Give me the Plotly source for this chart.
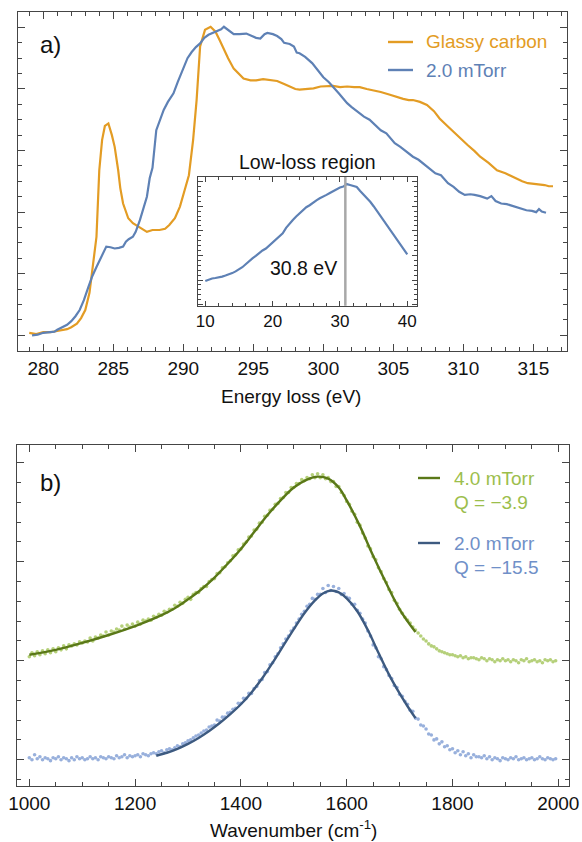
import numpy as np
import plotly.graph_objects as go

# ---------------- Panel a: core-loss spectra ----------------
glassy_E = [279.0, 279.5, 280.0, 280.5, 281.0, 281.7, 282.0, 282.4, 282.7, 283.0, 283.3, 283.55, 283.8, 284.0,
            284.2, 284.4, 284.65, 284.9, 285.1, 285.35, 285.5, 285.7, 285.9, 286.07, 286.4, 286.8, 287.4, 287.8,
            288.3, 288.7, 289.0, 289.4, 289.76, 290.1, 290.4, 290.7, 290.95, 291.2, 291.55, 291.95, 292.3, 292.6,
            292.9, 293.2, 293.6, 294.0, 294.3, 294.8, 295.2, 295.7, 296.2, 296.7, 297.2, 297.6, 298.0, 298.3,
            298.8, 299.3, 299.8, 300.3, 300.7, 301.2, 301.7, 302.2, 302.6, 303.1, 303.6, 304.1, 304.7, 305.2,
            305.7, 306.1, 306.4, 306.9, 307.4, 307.9, 308.3, 308.8, 309.3, 309.8, 310.3, 310.8, 311.2, 311.8,
            312.4, 313.0, 313.6, 314.2, 314.6, 315.0, 315.4, 315.8, 316.1, 316.4]
glassy_I = [0.04, 0.02, 0.05, 0.05, 0.07, 0.10, 0.13, 0.19, 0.28, 0.41, 0.69, 1.14, 1.60, 2.68,
            3.17, 3.40, 3.44, 3.25, 3.06, 2.68, 2.39, 2.14, 1.99, 1.90, 1.82, 1.76, 1.68, 1.71,
            1.71, 1.73, 1.79, 1.90, 2.09, 2.36, 2.60, 3.17, 3.82, 4.69, 4.96, 5.01, 4.93, 4.79,
            4.63, 4.50, 4.33, 4.24, 4.17, 4.14, 4.14, 4.16, 4.14, 4.13, 4.08, 4.04, 4.00, 3.99,
            4.00, 4.01, 4.04, 4.05, 4.05, 4.03, 4.04, 4.03, 4.03, 4.00, 3.98, 3.95, 3.91, 3.87,
            3.84, 3.82, 3.82, 3.79, 3.74, 3.64, 3.52, 3.41, 3.30, 3.20, 3.09, 2.99, 2.90, 2.80,
            2.68, 2.63, 2.56, 2.50, 2.47, 2.46, 2.44, 2.44, 2.42, 2.42]

torr2_E = [279.2, 279.6, 280.0, 280.4, 280.8, 281.0, 281.4, 281.7, 282.0, 282.3, 282.6, 282.9, 283.2, 283.5,
           283.8, 284.1, 284.4, 284.5, 284.8, 285.1, 285.4, 285.7, 285.9, 286.1, 286.4, 286.6, 286.9, 287.1,
           287.4, 287.6, 287.8, 288.07, 288.3, 288.6, 288.9, 289.3, 289.6, 290.0, 290.3, 290.6, 290.9, 291.2,
           291.5, 291.8, 292.1, 292.4, 292.7, 292.9, 293.2, 293.6, 294.0, 294.5, 294.9, 295.2, 295.5, 295.8,
           296.0, 296.4, 296.7, 297.0, 297.2, 297.6, 297.9, 298.1, 298.3, 298.7, 299.2, 299.6, 300.0, 300.4,
           300.7, 301.1, 301.4, 301.7, 302.0, 302.5, 302.9, 303.3, 303.7, 304.1, 304.5, 304.8, 305.1, 305.5,
           305.9, 306.4, 306.8, 307.2, 307.6, 307.8, 308.0, 308.4, 308.9, 309.3, 309.7, 310.1, 310.5, 310.8,
           311.2, 311.7, 312.0, 312.3, 312.7, 313.1, 313.6, 314.0, 314.5, 314.9, 315.2, 315.4, 315.6, 315.9]
torr2_I = [0.00, 0.01, 0.04, 0.05, 0.06, 0.09, 0.13, 0.17, 0.23, 0.31, 0.41, 0.57, 0.77, 0.96,
           1.11, 1.25, 1.38, 1.44, 1.43, 1.41, 1.42, 1.44, 1.52, 1.56, 1.60, 1.68, 1.87, 2.03,
           2.25, 2.55, 2.72, 3.33, 3.49, 3.66, 3.79, 3.93, 4.11, 4.33, 4.50, 4.60, 4.68, 4.74,
           4.83, 4.88, 4.91, 4.93, 4.97, 5.01, 4.96, 4.89, 4.89, 4.90, 4.86, 4.83, 4.82, 4.89,
           4.91, 4.89, 4.86, 4.81, 4.75, 4.73, 4.69, 4.59, 4.58, 4.52, 4.42, 4.31, 4.19, 4.11,
           4.04, 3.93, 3.85, 3.77, 3.71, 3.62, 3.55, 3.50, 3.41, 3.33, 3.28, 3.20, 3.12, 3.06,
           2.99, 2.90, 2.85, 2.78, 2.71, 2.68, 2.63, 2.60, 2.47, 2.41, 2.33, 2.28, 2.29, 2.28,
           2.26, 2.22, 2.26, 2.18, 2.14, 2.13, 2.09, 2.07, 2.03, 2.02, 2.00, 2.05, 2.01, 1.99]

# ---------------- Inset: low-loss region ----------------
lowloss_E = [10.0, 10.5, 11.0, 11.5, 12.0, 12.5, 13.0, 13.5, 14.0, 14.5, 15.0, 15.5, 16.0, 16.5, 17.0, 17.5,
             18.0, 18.5, 19.0, 19.5, 20.0, 20.5, 21.0, 21.5, 22.0, 22.5, 23.0, 23.5, 24.0, 24.5, 25.0, 25.5,
             26.0, 26.5, 27.0, 27.5, 28.0, 28.5, 29.0, 29.5, 30.0, 30.5, 31.0, 31.5, 32.0, 32.5, 33.0, 33.5,
             34.0, 34.5, 35.0, 35.5, 36.0, 36.5, 37.0, 37.5, 38.0, 38.5, 39.0, 39.5, 40.0]
lowloss_I = [-0.04, 0.02, 0.06, 0.08, 0.10, 0.14, 0.18, 0.22, 0.28, 0.35, 0.43, 0.52, 0.64, 0.78, 0.88, 0.98,
             1.10, 1.20, 1.28, 1.40, 1.54, 1.62, 1.74, 1.90, 2.12, 2.30, 2.44, 2.58, 2.72, 2.84, 2.96, 3.04,
             3.16, 3.24, 3.32, 3.38, 3.46, 3.54, 3.62, 3.70, 3.76, 3.80, 3.90, 3.86, 3.82, 3.78, 3.62, 3.48,
             3.36, 3.18, 3.00, 2.80, 2.60, 2.40, 2.22, 2.02, 1.82, 1.62, 1.42, 1.22, 1.04]
plasmon_peak = 30.8

# ---------------- Panel b: spectra with fits ----------------
wavenumber = list(range(1000, 2000, 5))
torr4_pts = [1.04, 1.08, 1.05, 1.09, 1.06, 1.10, 1.07, 1.11, 1.08, 1.12,
             1.09, 1.13, 1.11, 1.15, 1.12, 1.16, 1.15, 1.17, 1.16, 1.19,
             1.18, 1.20, 1.19, 1.23, 1.20, 1.24, 1.23, 1.26, 1.25, 1.29,
             1.26, 1.30, 1.29, 1.32, 1.31, 1.35, 1.32, 1.36, 1.34, 1.37,
             1.35, 1.39, 1.37, 1.41, 1.40, 1.42, 1.41, 1.45, 1.44, 1.47,
             1.46, 1.50, 1.49, 1.52, 1.52, 1.56, 1.55, 1.59, 1.58, 1.62,
             1.64, 1.62, 1.67, 1.69, 1.69, 1.73, 1.75, 1.75, 1.80, 1.82,
             1.83, 1.88, 1.89, 1.94, 1.95, 1.99, 2.01, 2.06, 2.07, 2.12,
             2.13, 2.18, 2.20, 2.25, 2.26, 2.32, 2.33, 2.39, 2.40, 2.46,
             2.47, 2.52, 2.53, 2.58, 2.59, 2.64, 2.65, 2.70, 2.70, 2.75,
             2.75, 2.79, 2.79, 2.83, 2.82, 2.85, 2.84, 2.88, 2.85, 2.89,
             2.85, 2.88, 2.84, 2.85, 2.81, 2.81, 2.76, 2.76, 2.70, 2.67,
             2.61, 2.58, 2.51, 2.48, 2.40, 2.37, 2.29, 2.24, 2.16, 2.13,
             2.05, 2.02, 1.94, 1.90, 1.83, 1.79, 1.72, 1.69, 1.61, 1.58,
             1.52, 1.48, 1.44, 1.41, 1.38, 1.34, 1.31, 1.28, 1.25, 1.22,
             1.20, 1.17, 1.15, 1.14, 1.12, 1.10, 1.09, 1.08, 1.07, 1.06,
             1.06, 1.05, 1.04, 1.05, 1.03, 1.04, 1.02, 1.03, 1.03, 1.02,
             1.01, 1.03, 1.02, 1.00, 1.02, 1.01, 0.99, 1.01, 1.00, 1.02,
             1.00, 1.01, 0.99, 1.01, 1.00, 0.98, 1.01, 1.00, 1.02, 0.99,
             1.00, 1.01, 0.99, 1.00, 0.98, 1.01, 1.00, 1.01, 0.99, 1.00]
torr2_pts = [0.02, 0.00, 0.05, 0.01, 0.03, 0.00, 0.02, 0.01, -0.01, 0.02,
             0.01, 0.03, 0.00, 0.02, 0.01, -0.01, 0.02, 0.00, 0.03, 0.01,
             0.02, 0.00, 0.01, 0.03, 0.01, 0.02, 0.00, 0.03, 0.02, 0.01,
             0.03, 0.02, 0.01, 0.04, 0.02, 0.03, 0.05, 0.02, 0.04, 0.03,
             0.04, 0.05, 0.03, 0.06, 0.05, 0.04, 0.06, 0.07, 0.06, 0.08,
             0.09, 0.07, 0.10, 0.11, 0.10, 0.12, 0.14, 0.13, 0.16, 0.17,
             0.19, 0.20, 0.22, 0.24, 0.25, 0.27, 0.29, 0.30, 0.33, 0.34,
             0.35, 0.40, 0.39, 0.43, 0.43, 0.47, 0.48, 0.51, 0.52, 0.57,
             0.57, 0.62, 0.62, 0.67, 0.67, 0.72, 0.74, 0.80, 0.81, 0.88,
             0.89, 0.96, 0.98, 1.04, 1.07, 1.13, 1.17, 1.22, 1.25, 1.30,
             1.33, 1.38, 1.42, 1.47, 1.50, 1.55, 1.57, 1.63, 1.62, 1.67,
             1.67, 1.73, 1.69, 1.76, 1.71, 1.75, 1.70, 1.73, 1.67, 1.68,
             1.64, 1.63, 1.57, 1.57, 1.51, 1.48, 1.42, 1.38, 1.30, 1.25,
             1.16, 1.13, 1.04, 1.02, 0.94, 0.91, 0.85, 0.82, 0.75, 0.73,
             0.66, 0.64, 0.59, 0.56, 0.50, 0.49, 0.42, 0.41, 0.35, 0.34,
             0.31, 0.26, 0.25, 0.20, 0.21, 0.16, 0.18, 0.13, 0.14, 0.10,
             0.11, 0.07, 0.09, 0.05, 0.08, 0.04, 0.06, 0.02, 0.05, 0.03,
             0.03, 0.02, 0.04, 0.01, 0.03, 0.00, 0.02, 0.01, -0.01, 0.02,
             0.01, 0.00, 0.02, 0.01, 0.03, 0.00, 0.01, 0.02, 0.00, 0.01,
             0.02, 0.00, 0.01, 0.03, 0.01, 0.00, 0.02, 0.01, 0.00, 0.01]

torr4_fit_x = [1000, 1050, 1100, 1150, 1200, 1250, 1275, 1300, 1325, 1350, 1375, 1400, 1425, 1450, 1475,
               1500, 1525, 1545, 1565, 1585, 1600, 1625, 1650, 1675, 1700, 1730]
torr4_fit_y = [1.06, 1.11, 1.18, 1.26, 1.35, 1.46, 1.53, 1.62, 1.72, 1.84, 1.98, 2.13, 2.30, 2.47, 2.62,
               2.75, 2.83, 2.86, 2.84, 2.75, 2.62, 2.36, 2.06, 1.78, 1.52, 1.29]
torr2_fit_x = [1240, 1260, 1280, 1300, 1320, 1340, 1360, 1380, 1400, 1420, 1440, 1460, 1480, 1500, 1520,
               1540, 1555, 1570, 1585, 1600, 1620, 1640, 1660, 1680, 1700, 1715, 1730]
torr2_fit_y = [0.04, 0.07, 0.11, 0.16, 0.22, 0.29, 0.37, 0.46, 0.56, 0.68, 0.82, 0.98, 1.15, 1.32, 1.48,
               1.61, 1.68, 1.71, 1.69, 1.63, 1.50, 1.31, 1.08, 0.86, 0.67, 0.54, 0.42]

# ---------------- Styling ----------------
ORANGE = "#E39C24"
BLUE = "#5E81B5"
GREEN_DOT = "#B5D07A"
GREEN_FIT = "#5A7818"
GREEN_TXT = "#9CBE4C"
BLUE_DOT = "#98B0DC"
BLUE_FIT = "#3D5A80"
BLUE_TXT = "#7090C8"
FRAME = "#454545"
FONT = "Liberation Sans, Arial, sans-serif"
W, H = 582, 842


def px_x(p):
    return p / W


def px_y(p):
    return 1 - p / H


fig = go.Figure()

fig.add_trace(go.Scatter(x=glassy_E, y=glassy_I, mode="lines", line=dict(color=ORANGE, width=2.2),
                         xaxis="x", yaxis="y", showlegend=False))
fig.add_trace(go.Scatter(x=torr2_E, y=torr2_I, mode="lines", line=dict(color=BLUE, width=2.2),
                         xaxis="x", yaxis="y", showlegend=False))

fig.add_trace(go.Scatter(x=lowloss_E, y=lowloss_I, mode="lines", line=dict(color=BLUE, width=2.2),
                         xaxis="x3", yaxis="y3", showlegend=False))
fig.add_trace(go.Scatter(x=[plasmon_peak, plasmon_peak], y=[-1.1, 4.3], mode="lines",
                         line=dict(color="#a8a8a8", width=2.5), xaxis="x3", yaxis="y3", showlegend=False))

fig.add_trace(go.Scatter(x=wavenumber, y=torr4_pts, mode="markers", marker=dict(color=GREEN_DOT, size=3.6),
                         xaxis="x2", yaxis="y2", showlegend=False))
fig.add_trace(go.Scatter(x=wavenumber, y=torr2_pts, mode="markers", marker=dict(color=BLUE_DOT, size=3.6),
                         xaxis="x2", yaxis="y2", showlegend=False))
fig.add_trace(go.Scatter(x=torr4_fit_x, y=torr4_fit_y, mode="lines", line=dict(color=GREEN_FIT, width=2.4, shape="spline"),
                         xaxis="x2", yaxis="y2", showlegend=False))
fig.add_trace(go.Scatter(x=torr2_fit_x, y=torr2_fit_y, mode="lines", line=dict(color=BLUE_FIT, width=2.4, shape="spline"),
                         xaxis="x2", yaxis="y2", showlegend=False))


def axis(domain, rng, dtick, tick0, minor_dtick, anchor, labels=True, size=19, tlen=7, mlen=4):
    return dict(domain=domain, range=rng, anchor=anchor, automargin=False,
                showline=True, linecolor=FRAME, linewidth=1, mirror="ticks",
                ticks="inside", ticklen=tlen, tickwidth=1, tickcolor=FRAME, dtick=dtick, tick0=tick0,
                showgrid=False, zeroline=False, showticklabels=labels,
                tickfont=dict(family=FONT, size=size, color="#111"),
                minor=dict(ticks="inside", ticklen=mlen, tickwidth=1, tickcolor=FRAME, dtick=minor_dtick,
                           tick0=tick0, showgrid=False))


fig.update_layout(
    width=W, height=H, margin=dict(l=0, r=0, t=0, b=0),
    paper_bgcolor="white", plot_bgcolor="rgba(0,0,0,0)",
    font=dict(family=FONT, size=19, color="#111"),
    xaxis=axis([px_x(17.5), px_x(567)], [278.16, 317.4], 5, 280, 1, "y"),
    yaxis=axis([px_y(351), px_y(12)], [-0.255, 5.25], 1, 0, 0.25, "x", labels=False),
    xaxis2=axis([px_x(17.3), px_x(569.3)], [977.3, 2020.8], 200, 1000, 50, "y2"),
    yaxis2=axis([px_y(786), px_y(445)], [-0.266, 3.18], 1, 0, 0.2, "x2", labels=False),
    xaxis3=axis([px_x(197.7), px_x(416.7)], [8.87, 41.4], 10, 0, 2, "y3", size=17, tlen=5, mlen=3),
    yaxis3=axis([px_y(305.7), px_y(176.7)], [-1.045, 4.2], 1, 0, 0.2, "x3", labels=False, tlen=5, mlen=3),
)

ann = []


def text(x, y, s, color="#111", size=19, xanchor="left"):
    ann.append(dict(x=px_x(x), y=px_y(y), xref="paper", yref="paper", text=s, showarrow=False,
                    xanchor=xanchor, yanchor="middle", font=dict(family=FONT, size=size, color=color)))


text(38, 45, "a)", size=24)
text(38, 482, "b)", size=24)
text(291, 396, "Energy loss (eV)", xanchor="center")
text(293, 829, "Wavenumber (cm<sup>-1</sup>)", xanchor="center")
text(307, 162, "Low-loss region", size=19.5, xanchor="center")
text(339, 268, "30.8 eV", size=19.5, xanchor="right")
text(424, 42, "Glassy carbon", color=ORANGE)
text(424, 70, "2.0 mTorr", color=BLUE)
text(452, 478, "4.0 mTorr", color=GREEN_TXT)
text(452, 502, "Q = \u22123.9", color=GREEN_TXT)
text(452, 543, "2.0 mTorr", color=BLUE_TXT)
text(452, 567, "Q = \u221215.5", color=BLUE_TXT)
fig.update_layout(annotations=ann)

shapes = []
for (x0, x1, y, c) in [(388, 413, 42, ORANGE), (388, 413, 70, BLUE), (418, 440, 478, GREEN_FIT), (418, 440, 543, BLUE_FIT)]:
    shapes.append(dict(type="line", xref="paper", yref="paper", x0=px_x(x0), x1=px_x(x1), y0=px_y(y), y1=px_y(y),
                       line=dict(color=c, width=2.4)))
fig.update_layout(shapes=shapes)

fig.write_html("out.html")
